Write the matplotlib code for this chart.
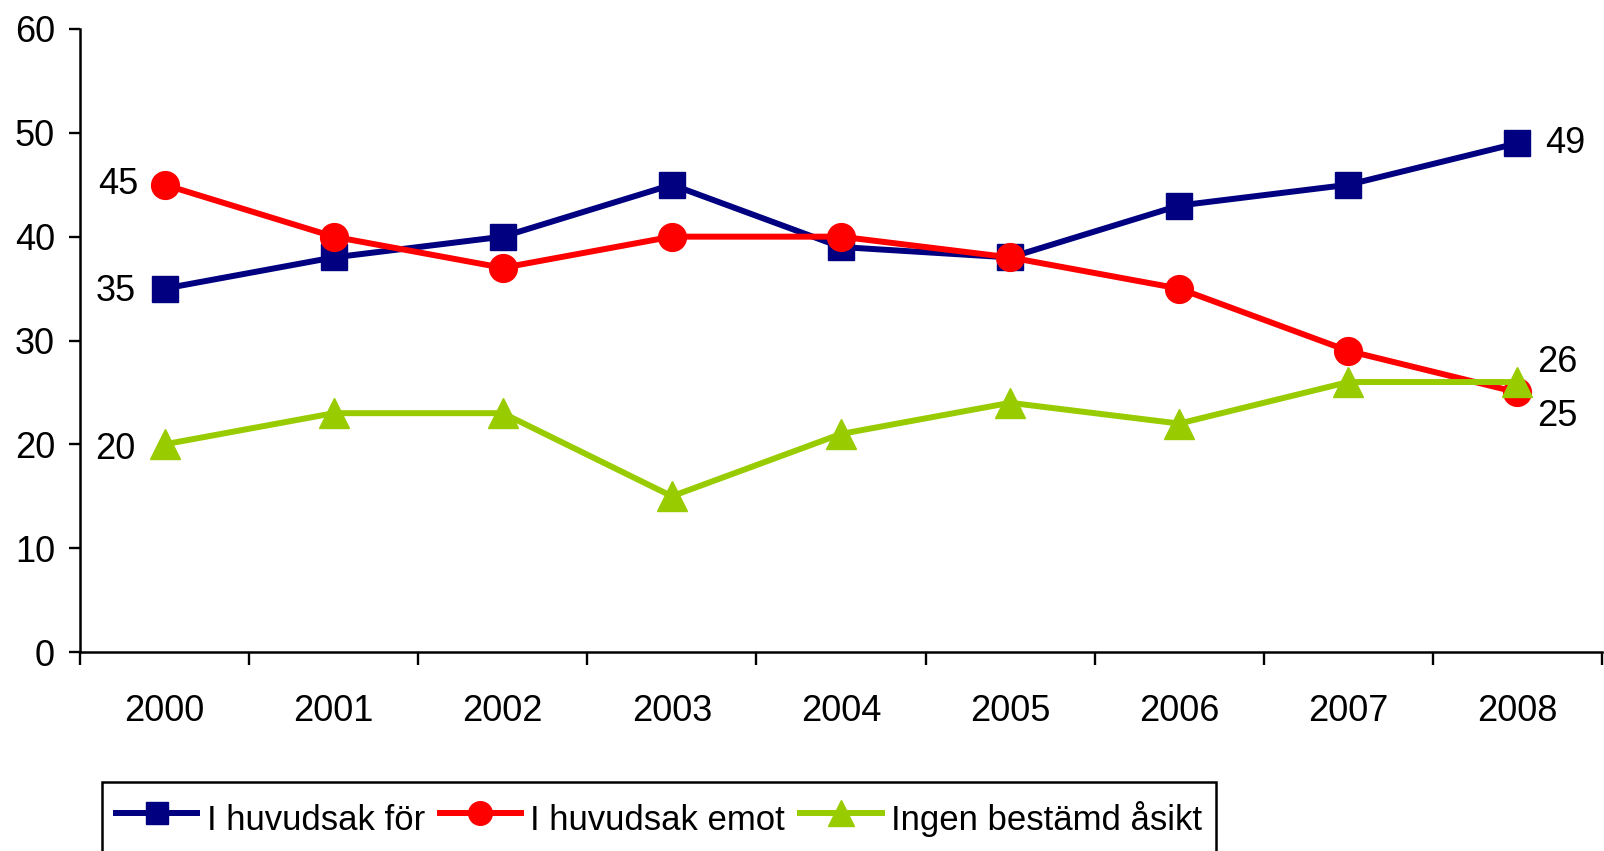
import matplotlib
matplotlib.use("Agg")
import matplotlib.pyplot as plt
import numpy as np

years = ["2000", "2001", "2002", "2003", "2004", "2005", "2006", "2007", "2008"]
for_vals = [35, 38, 40, 45, 39, 38, 43, 45, 49]
emot_vals = [45, 40, 37, 40, 40, 38, 35, 29, 25]
ingen_vals = [20, 23, 23, 15, 21, 24, 22, 26, 26]
names = ["I huvudsak för", "I huvudsak emot", "Ingen bestämd åsikt"]

plt.rcParams['font.family'] = ['Liberation Sans', 'DejaVu Sans']

fig = plt.figure(figsize=(16.04, 8.51), dpi=100)
ax = fig.add_axes([80 / 1604, 1 - 652 / 851, 1522 / 1604, 623 / 851])

x = np.arange(len(years))
lw = 4.3
ax.plot(x, for_vals, color="#000080", lw=lw, marker="s", ms=19, label=names[0])
ax.plot(x, emot_vals, color="#FF0000", lw=lw, marker="o", ms=20, label=names[1])
ax.plot(x, ingen_vals, color="#99CC00", lw=lw, marker="^", ms=22, label=names[2])

ax.set_xlim(-0.5, len(years) - 0.5)
ax.set_ylim(0, 60)
ax.set_yticks(range(0, 61, 10))
ax.set_xticks(x)
ax.set_xticklabels(years)
ax.set_xticks(np.arange(-0.5, len(years)), minor=True)
ax.tick_params(axis="x", which="major", length=0, pad=30, labelsize=26)
ax.tick_params(axis="x", which="minor", length=9.5, width=1.7, direction="out")
ax.tick_params(axis="y", length=8, width=1.7, pad=10, labelsize=26)

for s in ["top", "right"]:
    ax.spines[s].set_visible(False)
for s in ["left", "bottom"]:
    ax.spines[s].set_linewidth(1.8)

# data labels at the ends
fs = 26
ax.annotate(str(emot_vals[0]), (0, emot_vals[0]), xytext=(-19, 0), textcoords="offset points",
            ha="right", va="center", fontsize=fs)
ax.annotate(str(for_vals[0]), (0, for_vals[0]), xytext=(-21, -2), textcoords="offset points",
            ha="right", va="center", fontsize=fs)
ax.annotate(str(ingen_vals[0]), (0, ingen_vals[0]), xytext=(-21, -4), textcoords="offset points",
            ha="right", va="center", fontsize=fs)
ax.annotate(str(for_vals[-1]), (8, for_vals[-1]), xytext=(20, 0), textcoords="offset points",
            ha="left", va="center", fontsize=fs)
ax.annotate(str(ingen_vals[-1]), (8, ingen_vals[-1]), xytext=(14, 14), textcoords="offset points",
            ha="left", va="center", fontsize=fs)
ax.annotate(str(emot_vals[-1]), (8, emot_vals[-1]), xytext=(14, -17), textcoords="offset points",
            ha="left", va="center", fontsize=fs)

leg = fig.legend(loc="upper left", bbox_to_anchor=(102 / 1604, 1 - 782 / 851), ncol=3,
                 fontsize=25, frameon=True, fancybox=False, shadow=False,
                 handlelength=2.35, handletextpad=0.26, columnspacing=0.43,
                 handleheight=1.6, borderpad=0.4, borderaxespad=0, markerscale=0.85)
leg.get_frame().set_edgecolor("black")
leg.get_frame().set_linewidth(1.8)
leg.get_frame().set_alpha(1)

fig.savefig("out.png", dpi=100)
